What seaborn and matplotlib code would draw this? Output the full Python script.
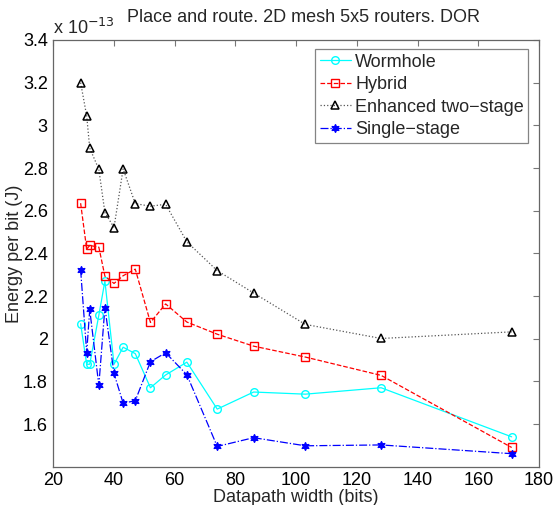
import matplotlib
matplotlib.use("Agg")
import matplotlib.pyplot as plt
import seaborn as sns
import pandas as pd
from matplotlib.ticker import FuncFormatter

sns.set_style("white")
plt.rcParams['font.family'] = ['Liberation Sans', 'DejaVu Sans']

widths = [29, 31, 32, 35, 37, 40, 43, 47, 52, 57, 64, 74, 86, 103, 128, 171]
wormhole = [2.07, 1.88, 1.88, 2.11, 2.27, 1.88, 1.96, 1.93, 1.77, 1.83, 1.89, 1.67, 1.75, 1.74, 1.77, 1.54]
hybrid = [2.635, 2.42, 2.437, 2.429, 2.293, 2.259, 2.295, 2.326, 2.076, 2.163, 2.078, 2.021, 1.965, 1.914, 1.828, 1.49]
enhanced = [3.20, 3.044, 2.893, 2.794, 2.591, 2.521, 2.796, 2.633, 2.621, 2.630, 2.454, 2.319, 2.214, 2.067, 2.001, 2.032]
single = [2.323, 1.935, 2.137, 1.781, 2.146, 1.837, 1.698, 1.709, 1.892, 1.934, 1.831, 1.495, 1.536, 1.498, 1.502, 1.461]
series_names = ["Wormhole", "Hybrid", "Enhanced two\u2212stage", "Single\u2212stage"]

title = "Place and route. 2D mesh 5x5 routers. DOR"
xlabel = "Datapath width (bits)"
ylabel = "Energy per bit (J)"
xticks = [20, 40, 60, 80, 100, 120, 140, 160, 180]
yticks = [1.6, 1.8, 2.0, 2.2, 2.4, 2.6, 2.8, 3.0, 3.2, 3.4]

styles = [
    dict(color="#00ffff", linestyle="-", marker="o", markersize=5.5, mfc="none", mec="#00ffff", mew=1.0),
    dict(color="#ff0000", linestyle="--", marker="s", markersize=5.5, mfc="none", mec="#ff0000", mew=1.0),
    dict(color="#555555", linestyle=":", marker="^", markersize=5.5, mfc="none", mec="#000000", mew=1.1),
    dict(color="#0000ff", linestyle="-.", marker=(6, 1, 0), markersize=6, mfc="#0000ff", mec="#0000ff", mew=0.8),
]

FS = 13

fig = plt.figure(figsize=(5.54, 5.05), dpi=100)
ax = fig.add_axes([53.3 / 554, 1 - 466.7 / 505, (539 - 53.3) / 554, (466.7 - 40) / 505])

for name, vals, st in zip(series_names, [wormhole, hybrid, enhanced, single], styles):
    df = pd.DataFrame({"x": widths, "y": vals})
    sns.lineplot(data=df, x="x", y="y", ax=ax, label=name, linewidth=0.9,
                 estimator=None, sort=False, **st)

ax.set_xlim(20, 180)
ax.set_ylim(1.4, 3.4)
ax.set_xticks(xticks)
ax.set_yticks(yticks)
fmt = FuncFormatter(lambda v, p: ("%g" % round(v, 2)))
ax.xaxis.set_major_formatter(fmt)
ax.yaxis.set_major_formatter(fmt)
ax.tick_params(direction="in", length=4, width=0.8, color="#777777",
               top=True, right=True, labelsize=FS, pad=4, labelcolor="black")
for sp in ax.spines.values():
    sp.set_color("#666666")
    sp.set_linewidth(0.9)

ax.set_xlabel(xlabel, fontsize=FS, labelpad=0)
ax.set_ylabel(ylabel, fontsize=FS)
ax.yaxis.set_label_coords(-0.062, 0.5)
ax.set_title(title, fontsize=FS, pad=13, x=0.516)
ax.text(0.0, 1.005, "x 10$^{-13}$", transform=ax.transAxes, fontsize=FS,
        ha="left", va="bottom")

leg = ax.legend(loc="upper right", bbox_to_anchor=(528.3 / 554, 1 - 49.3 / 505),
                bbox_transform=fig.transFigure, fontsize=FS, frameon=True,
                fancybox=False, edgecolor="#666666", borderpad=0.25,
                labelspacing=0.3, handlelength=1.7, handletextpad=0.25,
                borderaxespad=0)
leg.get_frame().set_linewidth(0.9)

fig.savefig("out.png", dpi=100)
